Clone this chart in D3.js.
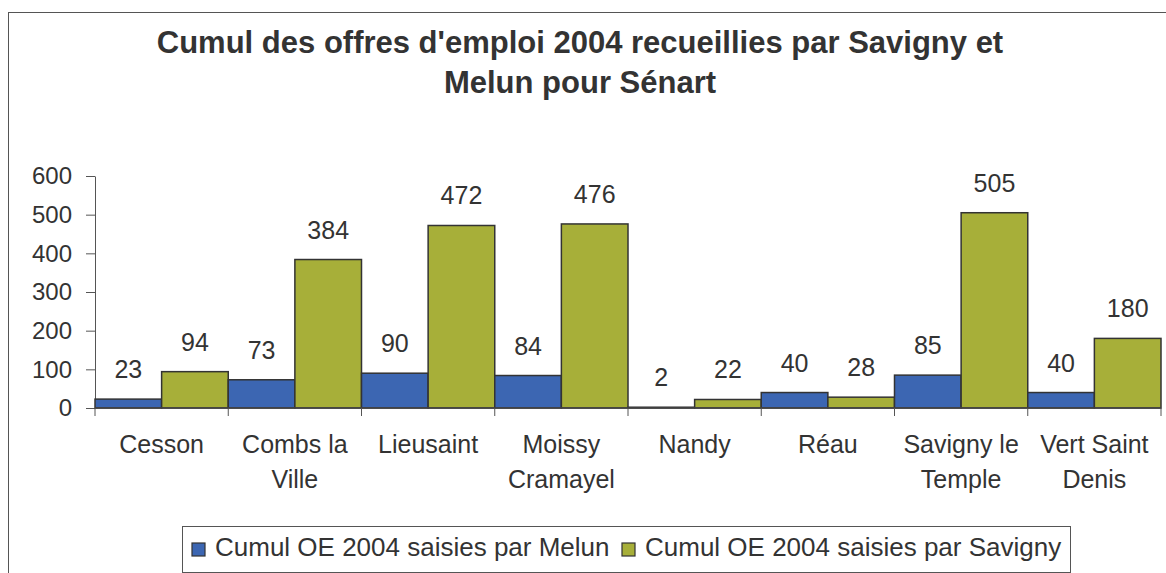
<!DOCTYPE html>
<html>
<head>
<meta charset="utf-8">
<title>Cumul des offres d'emploi 2004</title>
<script src="https://d3js.org/d3.v7.min.js"></script>
<style>
    body { margin: 0; background: #fff; }
    text { font-family: "Liberation Sans", Arial, Helvetica, sans-serif; fill: #333; }
</style>
</head>
<body>
<div id="chart"></div>
<script>
    // data
    var communes = ["Cesson", "Combs la Ville", "Lieusaint", "Moissy Cramayel", "Nandy", "Réau", "Savigny le Temple", "Vert Saint Denis"]
    var communeLines = [["Cesson"], ["Combs la", "Ville"], ["Lieusaint"], ["Moissy", "Cramayel"], ["Nandy"], ["Réau"], ["Savigny le", "Temple"], ["Vert Saint", "Denis"]]
    var melun = [23, 73, 90, 84, 2, 40, 85, 40]
    var savigny = [94, 384, 472, 476, 22, 28, 505, 180]
    var seriesNames = ["Cumul OE 2004 saisies par Melun", "Cumul OE 2004 saisies par Savigny"]
    var seriesColors = ["#3c66b2", "#a7af39"]
    var yTicks = [0, 100, 200, 300, 400, 500, 600]

    var W = 1166, H = 573
    var svg = d3.select("#chart").append("svg")
        .attr("width", W).attr("height", H)

    // outer frame (runs off the right and bottom of the picture)
    svg.append("rect")
        .attr("x", 8.5).attr("y", 12.5)
        .attr("width", W + 10).attr("height", H + 10)
        .attr("fill", "none").attr("stroke", "#555").attr("stroke-width", 1)

    // title
    var title = svg.append("text")
        .attr("text-anchor", "middle")
        .style("font-size", "31px").style("font-weight", "bold")
    title.append("tspan").attr("x", 580).attr("y", 53).text("Cumul des offres d'emploi 2004 recueillies par Savigny et")
    title.append("tspan").attr("x", 580).attr("y", 93).text("Melun pour Sénart")

    var plotLeft = 95, plotRight = 1161, plotTop = 176, plotBottom = 408

    var x = d3.scaleBand().domain(communes).range([plotLeft, plotRight]).padding(0)
    var x1 = d3.scaleBand().domain([0, 1]).range([0, x.bandwidth()]).padding(0)
    var y = d3.scaleLinear().domain([0, 600]).range([plotBottom, plotTop])

    // y axis
    var yAxis = svg.append("g")
        .attr("transform", "translate(" + plotLeft + ",0)")
        .call(d3.axisLeft(y).tickValues(yTicks).tickSize(9).tickPadding(14).tickSizeOuter(0))
    yAxis.select(".domain").attr("stroke", "#555")
    yAxis.selectAll(".tick line").attr("stroke", "#555")
    yAxis.selectAll(".tick text").style("font-size", "24px").attr("fill", "#333")
        .style("font-family", "'Liberation Sans', Arial, sans-serif")

    // bars
    var groups = svg.selectAll(".grp")
        .data(communes)
        .enter().append("g")
        .attr("class", "grp")
        .attr("transform", function (d) { return "translate(" + x(d) + ",0)" })

    ;[melun, savigny].forEach(function (vals, s) {
        groups.append("rect")
            .attr("x", x1(s))
            .attr("y", function (d, i) { return y(vals[i]) })
            .attr("width", x1.bandwidth())
            .attr("height", function (d, i) { return y(0) - y(vals[i]) })
            .attr("fill", seriesColors[s])
            .attr("stroke", "#333")
            .attr("stroke-width", 1.5)

        groups.append("text")
            .attr("x", x1(s) + x1.bandwidth() / 2)
            .attr("y", function (d, i) { return y(vals[i]) - 21 })
            .attr("text-anchor", "middle")
            .style("font-size", "25px")
            .text(function (d, i) { return vals[i] })
    })

    // x axis with ticks at band edges
    var xAxis = svg.append("g")
    xAxis.append("line")
        .attr("x1", plotLeft).attr("x2", plotRight)
        .attr("y1", plotBottom).attr("y2", plotBottom)
        .attr("stroke", "#444").attr("stroke-width", 1.5)
    var edges = communes.map(function (c) { return x(c) }).concat([plotRight])
    xAxis.selectAll(".xt")
        .data(edges)
        .enter().append("line")
        .attr("x1", function (d) { return d }).attr("x2", function (d) { return d })
        .attr("y1", plotBottom).attr("y2", plotBottom + 8)
        .attr("stroke", "#555")

    var labels = xAxis.selectAll(".xl")
        .data(communes)
        .enter().append("text")
        .attr("text-anchor", "middle")
        .style("font-size", "25px")
    labels.each(function (d, i) {
        var t = d3.select(this)
        communeLines[i].forEach(function (line, k) {
            t.append("tspan")
                .attr("x", x(d) + x.bandwidth() / 2)
                .attr("y", 453 + k * 35)
                .text(line)
        })
    })

    // legend
    var legend = svg.append("g")
    legend.append("rect")
        .attr("x", 182.5).attr("y", 526.5)
        .attr("width", 888).attr("height", 46)
        .attr("fill", "#fff").attr("stroke", "#555")
    var legendX = [192, 622]
    seriesNames.forEach(function (name, s) {
        legend.append("rect")
            .attr("x", legendX[s]).attr("y", 543)
            .attr("width", 13).attr("height", 13)
            .attr("fill", seriesColors[s])
            .attr("stroke", "#333").attr("stroke-width", 1.2)
        legend.append("text")
            .attr("x", legendX[s] + 23).attr("y", 556)
            .style("font-size", "26px")
            .text(name)
    })
</script>
</body>
</html>
